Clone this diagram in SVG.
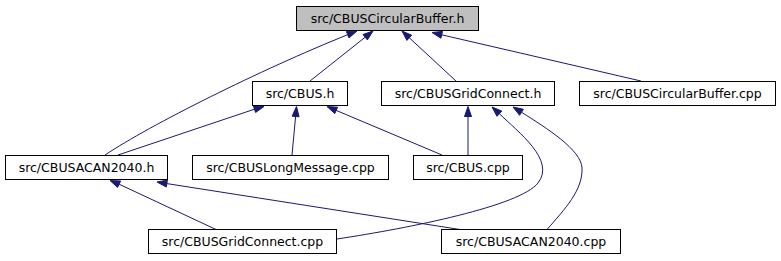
<svg xmlns="http://www.w3.org/2000/svg" width="781" height="261" viewBox="0 0 781 261">
  <style>
    .node rect { fill: #ffffff; stroke: #000000; stroke-width: 1; }
    .node.root rect { fill: #bfbfbf; }
    .node text { font-family: "DejaVu Sans", "Liberation Sans", sans-serif; font-size: 12.5px; fill: #000000; text-anchor: middle; }
    .edge path { fill: none; stroke: #191970; stroke-width: 1; }
    .edge polygon { fill: #191970; stroke: #191970; stroke-width: 1; stroke-linejoin: miter; }
  </style>
  <rect x="0" y="0" width="781" height="261" fill="#ffffff"/>

  <!-- include edges: arrowhead points at the included header -->
  <g id="edges">
    <g class="edge" id="e_acan2040h_circbufh">
      <path d="M105,155 C150,125 260,70 347.7,34.7"/>
      <polygon points="357,31 349,37.9 346.4,31.5"/>
    </g>
    <g class="edge" id="e_cbush_circbufh">
      <path d="M310,81 L365.2,37.2"/>
      <polygon points="373,31 367.4,39.9 363,34.5"/>
    </g>
    <g class="edge" id="e_gridh_circbufh">
      <path d="M456,81 L409.3,37.8"/>
      <polygon points="402,31 411.7,35.2 406.9,40.4"/>
    </g>
    <g class="edge" id="e_circbufcpp_circbufh">
      <path d="M641,81 L441.7,34.8"/>
      <polygon points="432,32.5 442.5,31.4 440.9,38.2"/>
    </g>
    <g class="edge" id="e_acan2040h_cbush">
      <path d="M118,155 L254.5,109.2"/>
      <polygon points="264,106.5 255.6,112.5 253.4,105.9"/>
    </g>
    <g class="edge" id="e_longmsg_cbush">
      <path d="M292,155 L295.6,116.5"/>
      <polygon points="296.5,106.5 299.1,116.8 292.1,116.2"/>
    </g>
    <g class="edge" id="e_cbuscpp_cbush">
      <path d="M442,155 L336.2,110.4"/>
      <polygon points="327,106.5 337.6,107.2 334.8,113.6"/>
    </g>
    <g class="edge" id="e_cbuscpp_gridh">
      <path d="M468,155 L468,116.5"/>
      <polygon points="468,106.5 471.5,116.5 464.5,116.5"/>
    </g>
    <g class="edge" id="e_gridcpp_gridh">
      <path d="M337,239 C410,228 520,206 538,183 C556,160 518,132 499.4,113.7"/>
      <polygon points="492,107 501.8,111.1 497,116.3"/>
    </g>
    <g class="edge" id="e_acan2040cpp_gridh">
      <path d="M547,229.5 C565,209 583,190 582,168 C581.5,150 546,127.6 521.5,112.3"/>
      <polygon points="513,107 523.4,109.3 519.6,115.3"/>
    </g>
    <g class="edge" id="e_gridcpp_acan2040h">
      <path d="M216,229.5 L119.1,184.2"/>
      <polygon points="110,180.5 120.6,181 117.6,187.4"/>
    </g>
    <g class="edge" id="e_acan2040cpp_acan2040h">
      <path d="M460,229.5 L166.9,183.6"/>
      <polygon points="157,182 167.4,180.1 166.3,187"/>
    </g>
  </g>

  <g class="node root" id="n_circbuf_h">
    <rect x="296.5" y="6.5" width="182" height="24"/>
    <text x="387.5" y="23">src/CBUSCircularBuffer.h</text>
  </g>
  <g class="node" id="n_cbus_h">
    <rect x="252.5" y="81.5" width="95" height="24"/>
    <text x="300" y="98">src/CBUS.h</text>
  </g>
  <g class="node" id="n_gridconnect_h">
    <rect x="381.5" y="81.5" width="173" height="24"/>
    <text x="468" y="98">src/CBUSGridConnect.h</text>
  </g>
  <g class="node" id="n_circbuf_cpp">
    <rect x="579.5" y="81.5" width="196" height="24"/>
    <text x="677.5" y="98">src/CBUSCircularBuffer.cpp</text>
  </g>
  <g class="node" id="n_acan2040_h">
    <rect x="5.5" y="155.5" width="162" height="24"/>
    <text x="86.5" y="172">src/CBUSACAN2040.h</text>
  </g>
  <g class="node" id="n_longmessage_cpp">
    <rect x="192.5" y="155.5" width="196" height="24"/>
    <text x="290.5" y="172">src/CBUSLongMessage.cpp</text>
  </g>
  <g class="node" id="n_cbus_cpp">
    <rect x="413.5" y="155.5" width="109" height="24"/>
    <text x="468" y="172">src/CBUS.cpp</text>
  </g>
  <g class="node" id="n_gridconnect_cpp">
    <rect x="148.5" y="229.5" width="188" height="24"/>
    <text x="242.5" y="246">src/CBUSGridConnect.cpp</text>
  </g>
  <g class="node" id="n_acan2040_cpp">
    <rect x="441.5" y="229.5" width="179" height="24"/>
    <text x="531" y="246">src/CBUSACAN2040.cpp</text>
  </g>
</svg>
